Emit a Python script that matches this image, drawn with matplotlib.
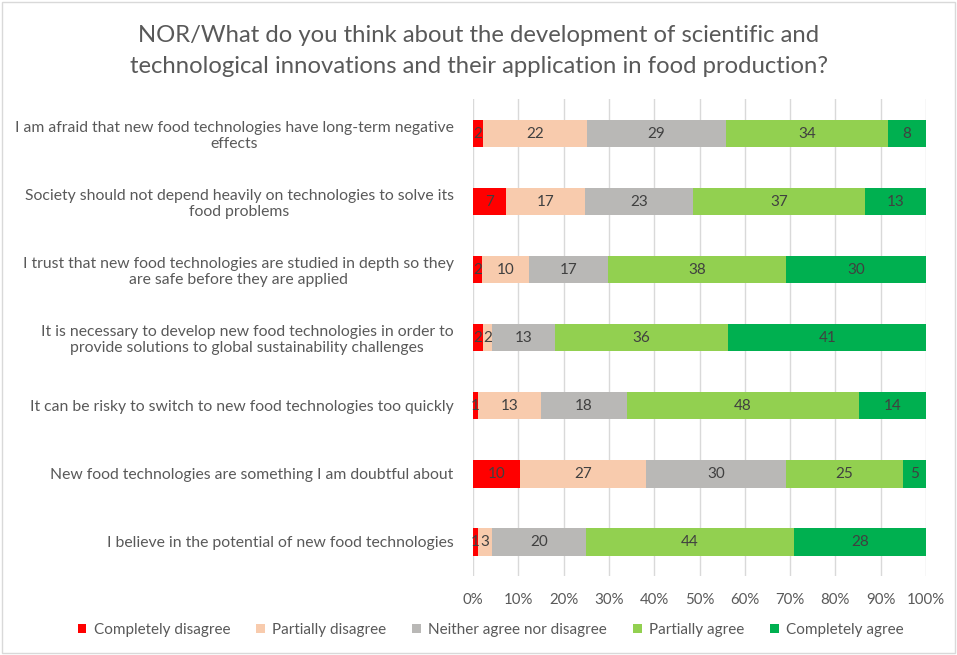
import matplotlib.pyplot as plt
import numpy as np
from matplotlib.patches import Rectangle

plt.rcParams['font.family'] = ['Lato', 'DejaVu Sans']

statements = [
    "I am afraid that new food technologies have long-term negative\neffects",
    "Society should not depend heavily on technologies to solve its\nfood problems",
    "I trust that new food technologies are studied in depth so they\nare safe before they are applied",
    "It is necessary to develop new food technologies in order to\nprovide solutions to global sustainability challenges",
    "It can be risky to switch to new food technologies too quickly",
    "New food technologies are something I am doubtful about",
    "I believe in the potential of new food technologies",
]
answers = ["Completely disagree", "Partially disagree",
           "Neither agree nor disagree", "Partially agree", "Completely agree"]
completely_disagree = [2, 7, 2, 2, 1, 10, 1]
partially_disagree = [22, 17, 10, 2, 13, 27, 3]
neutral = [29, 23, 17, 13, 18, 30, 20]
partially_agree = [34, 37, 38, 36, 48, 25, 44]
completely_agree = [8, 13, 30, 41, 14, 5, 28]
tick_labels = ["0%", "10%", "20%", "30%", "40%", "50%", "60%", "70%", "80%", "90%", "100%"]

colors = ["#FF0000", "#F8CBAD", "#B9B8B6", "#92D050", "#00B050"]

series = np.array([completely_disagree, partially_disagree, neutral,
                   partially_agree, completely_agree], dtype=float)
shares = series / series.sum(axis=0)

fig = plt.figure(figsize=(9.57, 6.55), dpi=100)
ax = fig.add_axes([0.4943, 0.1206, 0.4733, 0.7275])

y = np.arange(len(statements))
left = np.zeros(len(statements))
for i, name in enumerate(answers):
    ax.barh(y, shares[i], left=left, height=0.4, color=colors[i],
            label=name, zorder=3)
    for j in range(len(statements)):
        ax.text(left[j] + shares[i][j] / 2, y[j], f"{int(series[i][j])}",
                ha="center", va="center", fontsize=11, color="#404040", zorder=4)
    left += shares[i]

ax.set_ylim(len(statements) - 0.5, -0.5)
ax.set_xlim(0, 1)
ax.set_yticks(y)
ax.set_yticklabels(statements, fontsize=11.3, color="#595959", multialignment="center")
ax.set_xticks(np.linspace(0, 1, 11))
ax.set_xticklabels(tick_labels, fontsize=10.8, color="#595959")
ax.tick_params(length=0, pad=12)
ax.tick_params(axis="y", pad=14)
ax.grid(axis="x", color="#D9D9D9", linewidth=1, zorder=0)
for s in ax.spines.values():
    s.set_visible(False)

fig.suptitle("NOR/What do you think about the development of scientific and\n"
             "technological innovations and their application in food production?",
             y=0.962, fontsize=17.2, color="#595959", linespacing=1.6)

fig.legend(loc="center", bbox_to_anchor=(0.513, 0.038), ncol=5, frameon=False,
           fontsize=11, labelcolor="#595959", handlelength=0.55, handleheight=0.55,
           handletextpad=0.5, columnspacing=1.7)

fig.patches.append(Rectangle((0.002, 0.003), 0.996, 0.994, transform=fig.transFigure,
                             fill=False, edgecolor="#D9D9D9", linewidth=1))

fig.savefig("out.png", dpi=100)
